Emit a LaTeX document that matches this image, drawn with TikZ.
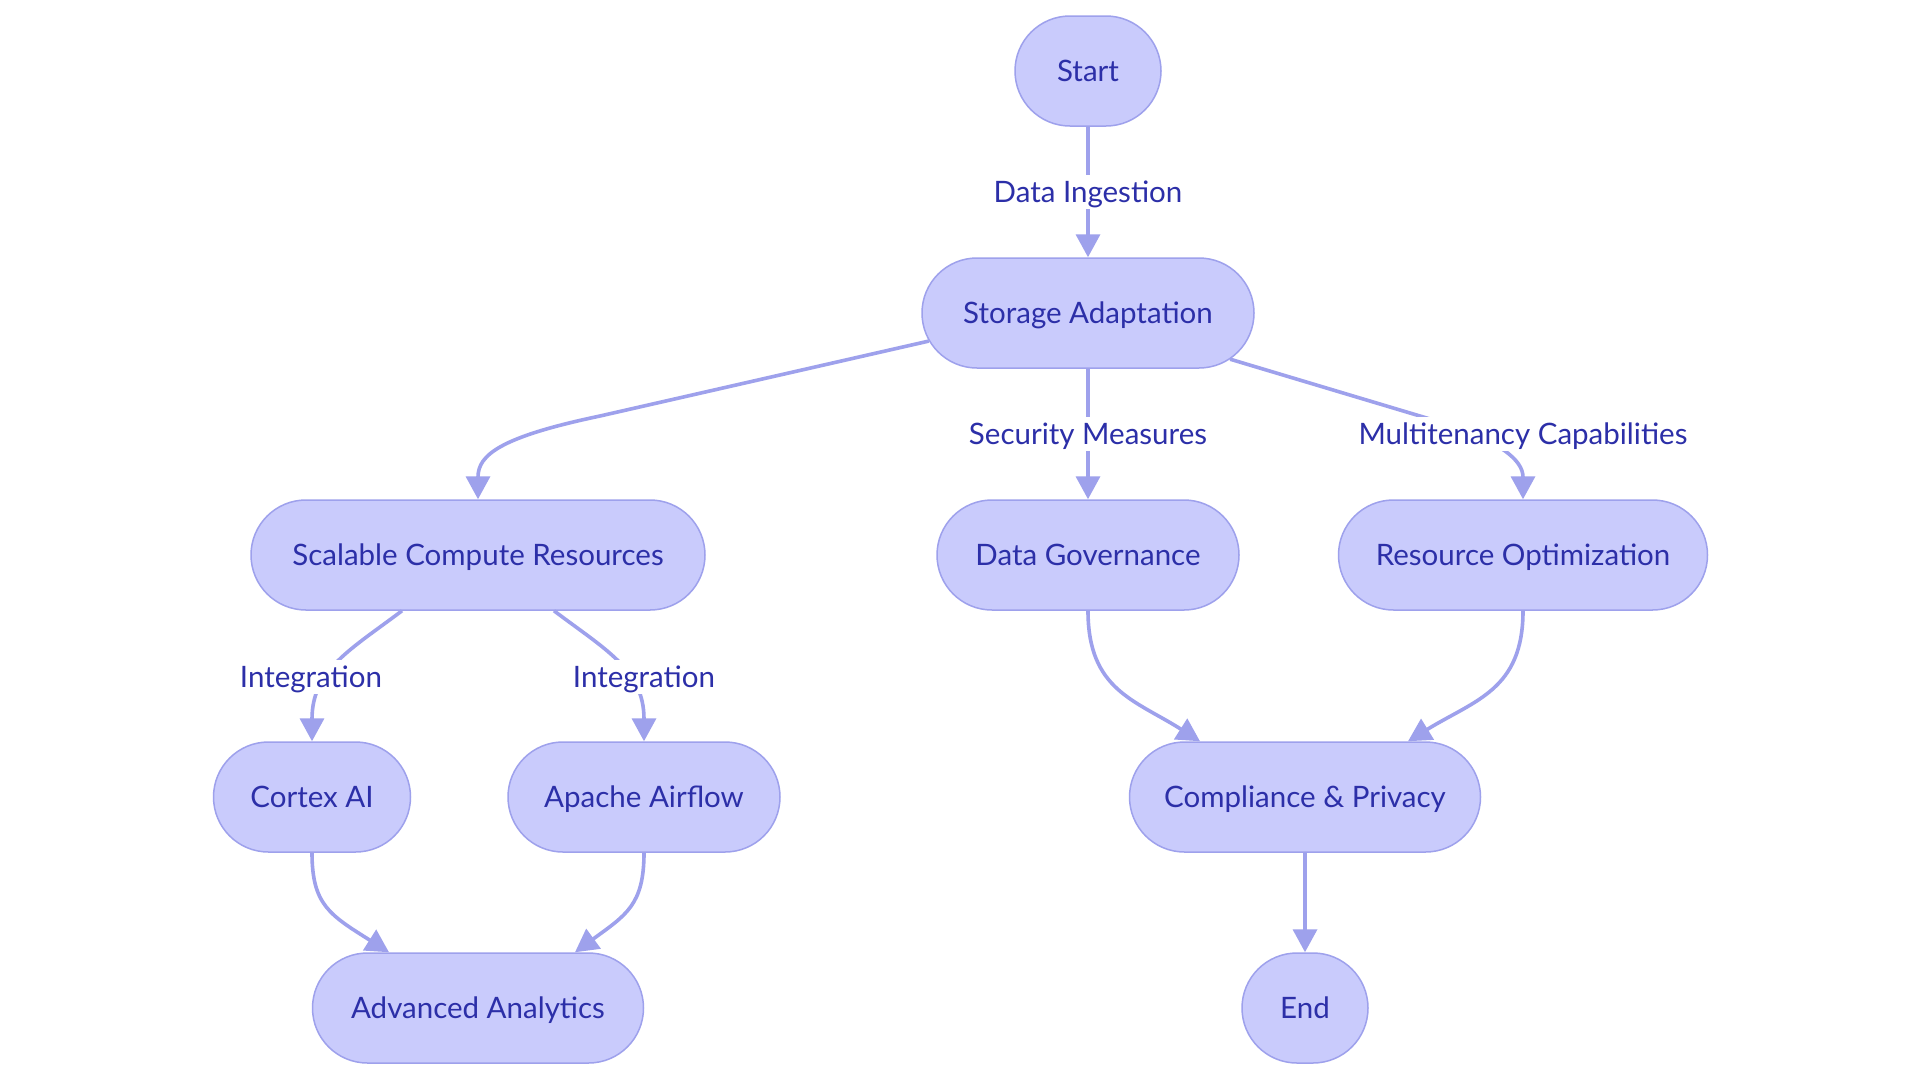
\documentclass[tikz,border=0pt]{standalone}
\usepackage{fontspec}
\setmainfont{Lato}
\usetikzlibrary{shapes.misc,arrows.meta}
\definecolor{nfill}{HTML}{C9CBFC}
\definecolor{nline}{HTML}{9EA1EC}
\definecolor{ntext}{HTML}{2C2FA8}
\begin{document}
\begin{tikzpicture}[x=1pt,y=-1pt,
  box/.style={rounded rectangle, draw=nline, fill=nfill, line width=1.5pt,
    minimum height=110pt, inner sep=0pt, text=ntext,
    text height=21.2pt, text depth=0pt,
    font=\fontsize{29.5}{34}\selectfont},
  lbl/.style={fill=white, text=ntext, inner xsep=4pt, inner ysep=6pt,
    text height=21.2pt, text depth=0pt,
    font=\fontsize{29.5}{34}\selectfont},
  edge/.style={draw=nline, line width=3.6pt,
    -{Triangle[length=23pt,width=24pt]}}
]
\fill[white] (0,0) rectangle (1920,1080);
\useasboundingbox (0,0) rectangle (1920,1080);

% nodes
\node[box, minimum width=146pt] (start) at (1088,71) {Start};
\node[box, minimum width=332pt] (storage) at (1088,313) {Storage Adaptation};
\node[box, minimum width=454pt] (scalable) at (478,555) {Scalable Compute Resources};
\node[box, minimum width=302pt] (gov) at (1088,555) {Data Governance};
\node[box, minimum width=369pt] (res) at (1523,555) {Resource Optimization};
\node[box, minimum width=197pt] (cortex) at (312,797) {Cortex AI};
\node[box, minimum width=272pt] (airflow) at (644,797) {Apache Airflow};
\node[box, minimum width=351pt] (comp) at (1305,797) {Compliance \& Privacy};
\node[box, minimum width=331pt] (adv) at (478,1008) {Advanced Analytics};
\node[box, minimum width=126pt] (end) at (1305,1008) {End};

% edges
\draw[edge] (start) -- (storage);
\draw[edge] (storage.190) -- (600,416) .. controls (500,437) and (478,455) .. (scalable.north);
\draw[edge] (storage) -- (gov);
\draw[edge] (storage.342) -- (1440,422) .. controls (1500,441) and (1523,460) .. (res.north);
\draw[edge] ([xshift=-76pt]scalable.south) .. controls (350,650) and (312,670) .. (cortex.north);
\draw[edge] ([xshift=76pt]scalable.south) .. controls (606,650) and (644,670) .. (airflow.north);
\draw[edge] (gov.south) .. controls (1088,690) and (1135,700) .. ([xshift=-105pt]comp.north);
\draw[edge] (res.south) .. controls (1523,690) and (1475,700) .. ([xshift=103pt]comp.north);
\draw[edge] (cortex.south) .. controls (312,905) and (330,915) .. ([xshift=-89pt]adv.north);
\draw[edge] (airflow.south) .. controls (644,905) and (626,915) .. ([xshift=97pt]adv.north);
\draw[edge] (comp) -- (end);

% labels
\node[lbl] (l1) at (1088,192) {Data Ingestion};
\node[lbl] (l2) at (1088,434) {Security Measures};
\node[lbl] (l3) at (1523,434) {Multitenancy Capabilities};
\node[lbl] (l4) at (311,677) {Integration};
\node[lbl] (l5) at (644,677) {Integration};
\end{tikzpicture}
\end{document}
